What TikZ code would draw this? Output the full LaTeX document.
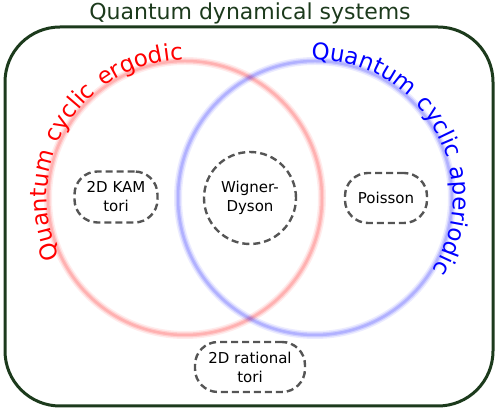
\documentclass[tikz,border=0pt]{standalone}
\usepackage{fontspec}
\setmainfont{DejaVu Sans}
\newfontfamily\ringfont[LetterSpace=8]{DejaVu Sans}
\usetikzlibrary{decorations.text}
\definecolor{dkgreen}{HTML}{1C3A1C}
\definecolor{boxgray}{HTML}{555555}

\begin{document}
\begin{tikzpicture}[x=1pt,y=1pt]
\tikzset{
  regimebox/.style={draw=boxgray,line width=2.4pt,dash pattern=on 7pt off 4pt,rounded corners=23pt,
    align=center,font=\fontsize{15}{19}\selectfont,inner sep=2pt},
  regimecirc/.style={draw=boxgray,line width=2.4pt,dash pattern=on 7pt off 4pt,circle,
    align=center,font=\fontsize{15}{19}\selectfont,minimum size=92pt,inner sep=0pt},
  glow/.style={line width=8pt,draw opacity=0.08},
  ring/.style={line width=5pt,draw opacity=0.12},
  core/.style={line width=2.5pt,draw opacity=0.14}
}
\useasboundingbox (0,0) rectangle (498,411);
% outer frame and title
\draw[dkgreen,line width=3pt,rounded corners=55pt] (5,5) rectangle (493,384);
\node[text=dkgreen,font=\fontsize{22}{26}\selectfont] (t_all) at (250,398) {Quantum dynamical systems};
% the two classes
\coordinate (c_erg) at (185,213);
\coordinate (c_aper) at (315,213);
\foreach \c/\col in {c_erg/red,c_aper/blue}{
  \draw[\col,glow] (\c) circle[radius=137];
  \draw[\col,ring] (\c) circle[radius=137];
  \draw[\col,core] (\c) circle[radius=137];
}
\path[decorate,decoration={text along path,text align=center,
  text={|\ringfont\fontsize{23}{27}\selectfont\color{red}|Quantum cyclic ergodic}}]
  ([shift={(238:138)}]c_erg) arc[start angle=238,end angle=58,radius=138];
\path[decorate,decoration={text along path,text align=center,
  text={|\ringfont\fontsize{23}{27}\selectfont\color{blue}|Quantum cyclic aperiodic}}]
  ([shift={(120:138)}]c_aper) arc[start angle=120,end angle=-60,radius=138];
% level statistics
\node[regimebox,minimum width=83pt,minimum height=51pt] (n_kam) at (116,214) {2D KAM\\tori};
\node[regimecirc] (n_wd) at (250,213) {Wigner-\\Dyson};
\node[regimebox,minimum width=82pt,minimum height=50pt] (n_poi) at (386,213) {Poisson};
\node[regimebox,minimum width=110pt,minimum height=50pt] (n_rat) at (250,44) {2D rational\\tori};
\end{tikzpicture}
\end{document}
